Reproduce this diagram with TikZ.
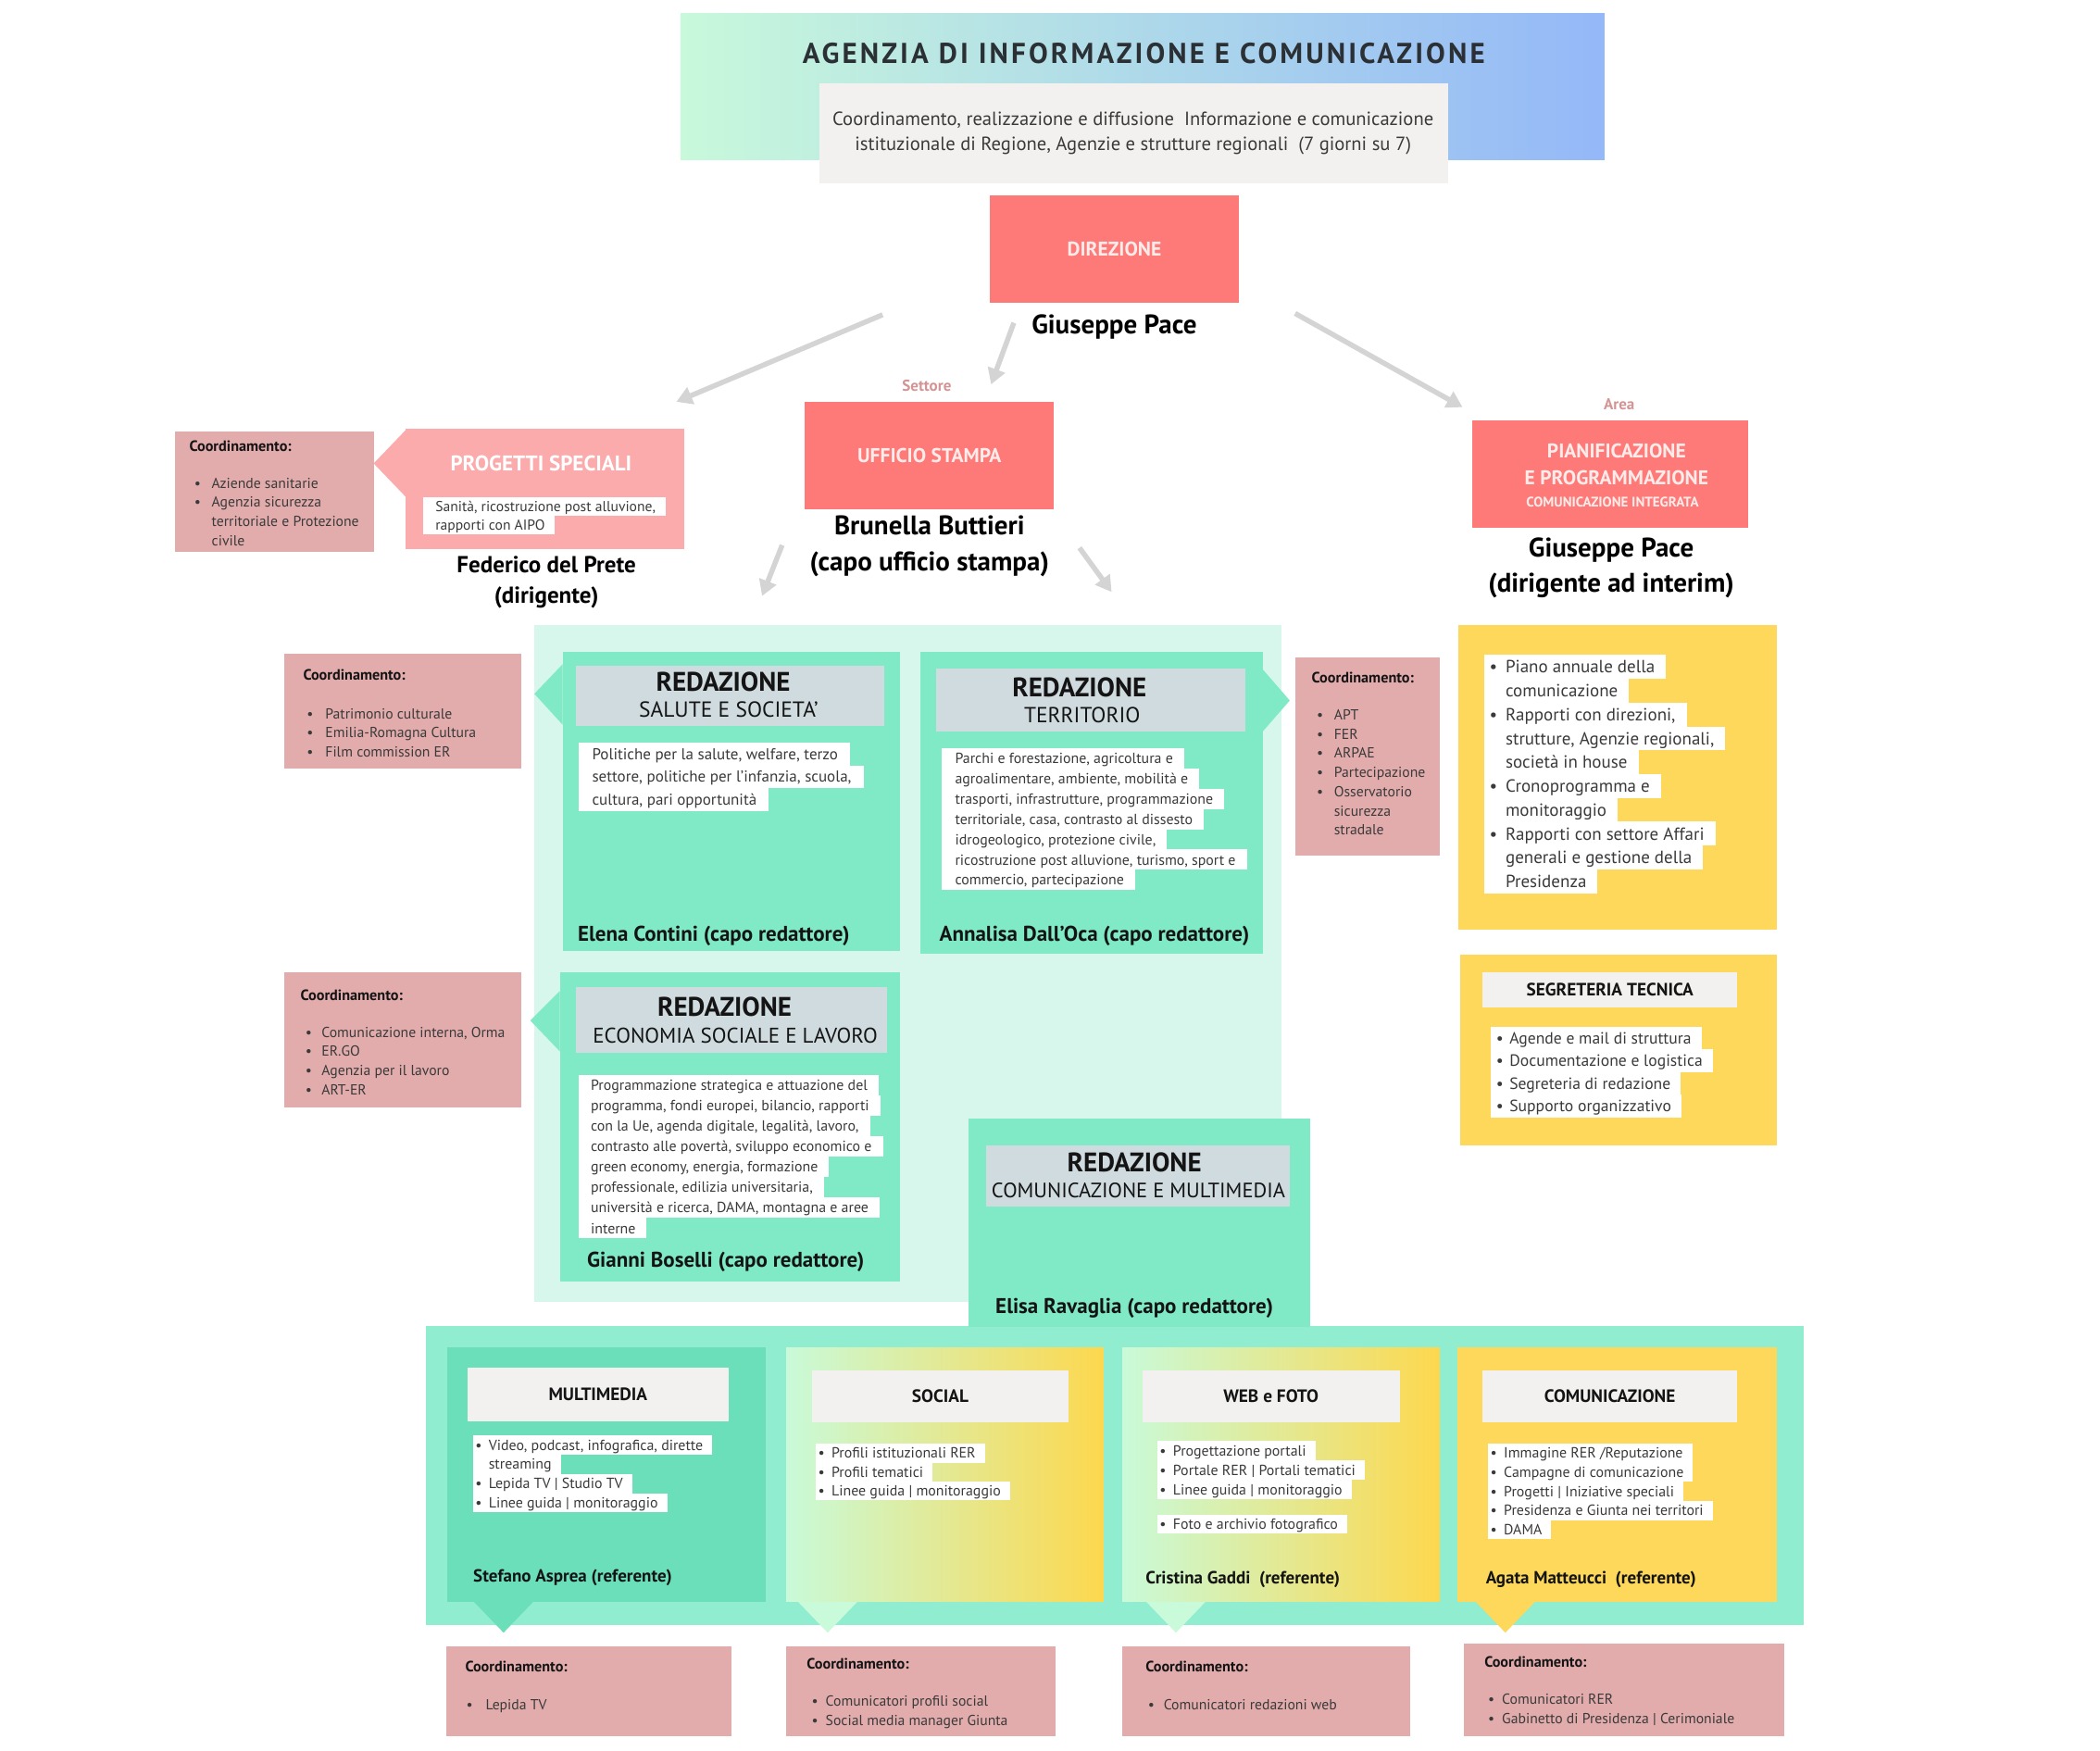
\documentclass[tikz,border=0pt]{standalone}
\usepackage{fontspec}
\setmainfont{PT Sans}
\usetikzlibrary{arrows.meta}
\definecolor{salmon}{HTML}{FE7A78}
\definecolor{pinkl}{HTML}{FBABAB}
\definecolor{coord}{HTML}{E2ABAC}
\definecolor{mintbg}{HTML}{D7F7EC}
\definecolor{mint}{HTML}{80E9C6}
\definecolor{hdr}{HTML}{CFDBDF}
\definecolor{yel}{HTML}{FDD85A}
\definecolor{mintb}{HTML}{91EDD0}
\definecolor{mintd}{HTML}{6ADFB9}
\definecolor{lgray}{HTML}{F2F1EF}
\definecolor{gradL}{HTML}{C9FAD9}
\definecolor{gradR}{HTML}{FDD84E}
\definecolor{banL}{HTML}{C8F9DB}
\definecolor{banR}{HTML}{94B8F8}
\definecolor{arr}{HTML}{D4D4D4}
\definecolor{lbl}{HTML}{D29494}
\definecolor{txt}{HTML}{3A3A3A}
\definecolor{ink}{HTML}{141414}
\definecolor{titc}{HTML}{2B3035}
\definecolor{labc}{HTML}{FFECEA}
\newlength\bpa \newlength\bpb \newlength\bpr
\newcommand\bli[1]{\hspace*{\bpa}\makebox[\bpb][l]{\textbullet}#1\hspace*{\bpr}}
\newcommand\cli[1]{\hspace*{\bpa}\hspace*{\bpb}#1\hspace*{\bpr}}
\newcommand\pli[1]{\hspace*{\bpa}#1\hspace*{\bpr}}
\newcommand\obox[6]{%
  \pgfmathsetmacro\obw{(#4-#2)*1.446429}%
  \pgfmathsetmacro\obh{(#5-#3)*1.446429}%
  \node[inner sep=0pt, outer sep=0pt, minimum width=\obw pt, minimum height=\obh pt, #6] (#1) at ({(#2+#4)/2},{(#3+#5)/2}) {};}
\newcommand\olines[6]{%
  \foreach \t [count=\i] in {#6} {\node[#2] (#1\i) at (#3,{#4+(\i-1)*#5}) {\t};}}
\tikzset{
  lab/.style={text=labc, font=\fontsize{21.5}{21.5}\selectfont\bfseries},
  bign/.style={text=black, font=\fontsize{29}{39}\selectfont\bfseries, align=center},
  sm/.style={text=lbl, font=\fontsize{17}{17}\selectfont\bfseries},
  ctitle/.style={anchor=west, text=ink, font=\fontsize{16.2}{16.2}\selectfont\bfseries},
  redt/.style={text=ink, font=\fontsize{29}{29}\selectfont\bfseries},
  reds/.style={text=ink, font=\fontsize{23.5}{23.5}\selectfont},
  capo/.style={anchor=west, text=ink, font=\fontsize{23}{23}\selectfont\bfseries},
  phead/.style={text=ink, font=\fontsize{19.3}{19.3}\selectfont\bfseries},
  pname/.style={anchor=west, text=ink, font=\fontsize{19}{19}\selectfont\bfseries},
  garrow/.style={draw=arr, line width=5.5pt, -{Triangle[length=17pt,width=19pt]}},
  ln/.style n args={4}{anchor=west, inner sep=0pt, text=txt, font=\fontsize{#1}{#1}\selectfont, text height=#2, text depth=#3, fill=#4},
  lP/.style={ln={15.6}{15.6pt}{4.7pt}{white}},
  lS/.style={ln={17}{18.25pt}{6.35pt}{white}},
  lT/.style={ln={15.9}{16.6pt}{5.4pt}{white}},
  lPi/.style={ln={19}{19.55pt}{6.25pt}{white}},
  lG/.style={ln={17.6}{18.45pt}{6.15pt}{white}},
  lB/.style={ln={15.9}{15.9pt}{4.8pt}{white}},
  lC/.style={ln={15.7}{15.4pt}{5.3pt}{none}},
}
\begin{document}
\begin{tikzpicture}[x=1.446429pt,y=-1.446429pt]
\useasboundingbox (0,0) rectangle (1568,1306.67);

% ---------- banner
\obox{ban}{508}{10}{1198}{119}{left color=banL,right color=banR}
\node[text=titc, font=\fontsize{31}{31}\selectfont\bfseries\addfontfeature{LetterSpace=10}] (tit) at (854,40) {AGENZIA DI INFORMAZIONE E COMUNICAZIONE};
\obox{desc}{612}{62}{1081}{137}{fill=lgray}
\node[text=txt, align=center, font=\fontsize{20.6}{27.5}\selectfont] (desct) at (846,99.5) {Coordinamento, realizzazione e diffusione\ \ Informazione e comunicazione\\istituzionale di Regione, Agenzie e strutture regionali\ \ (7 giorni su 7)};

% ---------- direzione
\obox{dir}{739}{146}{925}{226}{fill=salmon}
\node[lab] (dirt) at (dir) {DIREZIONE};
\node[bign] (dirn) at (832,244) {Giuseppe Pace};

\coordinate (a1s) at (659,235); \coordinate (a1e) at (505,300);
\coordinate (a2s) at (757,241); \coordinate (a2e) at (740,287);
\coordinate (a3s) at (967,234); \coordinate (a3e) at (1092,304);
\draw[garrow] (a1s) -- (a1e);
\draw[garrow] (a2s) -- (a2e);
\draw[garrow] (a3s) -- (a3e);

% ---------- ufficio stampa
\node[sm] (sett) at (692,288) {Settore};
\obox{uff}{601}{300}{787}{380}{fill=salmon}
\node[lab] (ufft) at (uff) {UFFICIO STAMPA};
\node[bign] (uffn) at (694,407.5) {Brunella Buttieri\\(capo ufficio stampa)};
\coordinate (a4s) at (584,407); \coordinate (a4e) at (569,445);
\coordinate (a5s) at (806,409); \coordinate (a5e) at (830,442);
\draw[garrow] (a4s) -- (a4e);
\draw[garrow] (a5s) -- (a5e);

% ---------- pianificazione
\node[sm] (area) at (1209,302) {Area};
\obox{pian}{1099}{314}{1305}{394}{fill=salmon}
\node[lab] (pian1) at (1207,337) {PIANIFICAZIONE};
\node[lab] (pian2) at (1207,357) {E PROGRAMMAZIONE};
\node[text=labc, font=\fontsize{15}{15}\selectfont\bfseries] (pian3) at (1204,375) {COMUNICAZIONE INTEGRATA};
\node[bign, font=\fontsize{29}{37.6}\selectfont\bfseries] (piann) at (1203,424) {Giuseppe Pace\\(dirigente ad interim)};

% ---------- progetti speciali
\fill[pinkl] (303,321) -- (279,346) -- (303,371) -- cycle;
\obox{prog}{303}{320}{511}{410}{fill=pinkl}
\node[text=white, font=\fontsize{23}{23}\selectfont\bfseries] (progt) at (404,346) {PROGETTI SPECIALI};
\begin{scope}
\setlength\bpa{13pt}\setlength\bpb{0pt}\setlength\bpr{11pt}
\olines{pg}{lP}{316}{378}{14}{\pli{Sanità, ricostruzione post alluvione,},\pli{rapporti con AIPO}}
\end{scope}
\node[bign, font=\fontsize{25}{33}\selectfont\bfseries] (progn) at (408,434.5) {Federico del Prete\\(dirigente)};

% ---------- coordinamento 1
\obox{c1}{131}{322}{279}{412}{fill=coord}
\node[ctitle] (c1t) at (139,333) {Coordinamento:};
\begin{scope}
\setlength\bpa{0pt}\setlength\bpb{18.8pt}\setlength\bpr{0pt}
\olines{c1l}{lC}{145}{361}{14.3}{\bli{Aziende sanitarie},\bli{Agenzia sicurezza},\cli{territoriale e Protezione},\cli{civile}}
\end{scope}

% ---------- redazioni container
\obox{grp}{399}{467}{957}{972}{fill=mintbg}

% salute
\fill[mint] (420,496) -- (399,518) -- (420,541) -- cycle;
\obox{sal}{420}{487}{672}{710}{fill=mint}
\obox{salh}{430}{497}{660}{542}{fill=hdr}
\node[redt] (salt1) at (540,509) {REDAZIONE};
\node[reds] (salt2) at (544,530) {SALUTE E SOCIETA’};
\begin{scope}
\setlength\bpa{14.5pt}\setlength\bpb{0pt}\setlength\bpr{13pt}
\olines{sl}{lS}{432}{563}{17}{\pli{Politiche per la salute, welfare, terzo},\pli{settore, politiche per l’infanzia, scuola,},\pli{cultura, pari opportunità}}
\end{scope}
\node[capo] (saln) at (429,699) {Elena Contini (capo redattore)};

% territorio
\fill[mint] (943,500) -- (963,523) -- (943,546) -- cycle;
\obox{ter}{687}{487}{943}{712}{fill=mint}
\obox{terh}{699}{499}{930}{546}{fill=hdr}
\node[redt] (tert1) at (806,513) {REDAZIONE};
\node[reds] (tert2) at (808,534) {TERRITORIO};
\begin{scope}
\setlength\bpa{14.5pt}\setlength\bpb{0pt}\setlength\bpr{12pt}
\olines{tl}{lT}{703}{566}{15.17}{\pli{Parchi e forestazione, agricoltura e},\pli{agroalimentare, ambiente, mobilità e},\pli{trasporti, infrastrutture, programmazione},\pli{territoriale, casa, contrasto al dissesto},\pli{idrogeologico, protezione civile,},\pli{ricostruzione post alluvione, turismo, sport e},\pli{commercio, partecipazione}}
\end{scope}
\node[capo] (tern) at (699,699) {Annalisa Dall’Oca (capo redattore)};

% coordinamento territorio
\obox{c4}{967}{491}{1075}{639}{fill=coord}
\node[ctitle] (c4t) at (977,506) {Coordinamento:};
\begin{scope}
\setlength\bpa{0pt}\setlength\bpb{18.8pt}\setlength\bpr{0pt}
\olines{c4l}{lC}{983}{534}{14.33}{\bli{APT},\bli{FER},\bli{ARPAE},\bli{Partecipazione},\bli{Osservatorio},\cli{sicurezza},\cli{stradale}}
\end{scope}

% coordinamento salute
\obox{c2}{212}{488}{389}{574}{fill=coord}
\node[ctitle] (c2t) at (224,504) {Coordinamento:};
\begin{scope}
\setlength\bpa{0pt}\setlength\bpb{20pt}\setlength\bpr{0pt}
\olines{c2l}{lC}{229}{533}{14.5}{\bli{Patrimonio culturale},\bli{Emilia-Romagna Cultura},\bli{Film commission ER}}
\end{scope}

% economia
\fill[mint] (418,740) -- (396,762) -- (418,785) -- cycle;
\obox{eco}{418}{726}{672}{957}{fill=mint}
\obox{ecoh}{430}{737}{662}{786}{fill=hdr}
\node[redt] (ecot1) at (541,752) {REDAZIONE};
\node[reds, font=\fontsize{23}{23}\selectfont] (ecot2) at (549,773) {ECONOMIA SOCIALE E LAVORO};
\begin{scope}
\setlength\bpa{13pt}\setlength\bpb{0pt}\setlength\bpr{12pt}
\olines{el}{lT}{432}{810}{15.29}{\pli{Programmazione strategica e attuazione del},\pli{programma, fondi europei, bilancio, rapporti},\pli{con la Ue, agenda digitale, legalità, lavoro,},\pli{contrasto alle povertà, sviluppo economico e},\pli{green economy, energia, formazione},\pli{professionale, edilizia universitaria,},\pli{università e ricerca, DAMA, montagna e aree},\pli{interne}}
\end{scope}
\node[capo] (econ) at (436,942) {Gianni Boselli (capo redattore)};

% coordinamento economia
\obox{c3}{212}{726}{389}{827}{fill=coord}
\node[ctitle] (c3t) at (222,743) {Coordinamento:};
\begin{scope}
\setlength\bpa{0pt}\setlength\bpb{17.4pt}\setlength\bpr{0pt}
\olines{c3l}{lC}{228}{771}{14.33}{\bli{Comunicazione interna, Orma},\bli{ER.GO},\bli{Agenzia per il lavoro},\bli{ART-ER}}
\end{scope}

% ---------- piano (yellow)
\obox{pia}{1089}{467}{1327}{694}{fill=yel}
\begin{scope}
\setlength\bpa{5.8pt}\setlength\bpb{17.4pt}\setlength\bpr{12pt}
\olines{pl}{lPi}{1108}{498}{17.78}{\bli{Piano annuale della},\cli{comunicazione},\bli{Rapporti con direzioni,},\cli{strutture, Agenzie regionali,},\cli{società in house},\bli{Cronoprogramma e},\cli{monitoraggio},\bli{Rapporti con settore Affari},\cli{generali e gestione della},\cli{Presidenza}}
\end{scope}

% segreteria
\obox{seg}{1090}{713}{1327}{855}{fill=yel}
\obox{segh}{1107}{726}{1297}{752}{fill=lgray}
\node[phead] (segt) at (segh) {SEGRETERIA TECNICA};
\begin{scope}
\setlength\bpa{5.8pt}\setlength\bpb{14.5pt}\setlength\bpr{11pt}
\olines{sg}{lG}{1113}{775}{17}{\bli{Agende e mail di struttura},\bli{Documentazione e logistica},\bli{Segreteria di redazione},\bli{Supporto organizzativo}}
\end{scope}

% ---------- bottom container
\obox{bot}{318}{990}{1347}{1213}{fill=mintb}

% comunicazione e multimedia
\obox{com}{723}{835}{978}{991}{fill=mint}
\obox{comh}{736}{855}{963}{901}{fill=hdr}
\node[redt] (comt1) at (847,868) {REDAZIONE};
\node[reds, font=\fontsize{22.5}{22.5}\selectfont] (comt2) at (850,889) {COMUNICAZIONE E MULTIMEDIA};
\node[capo, anchor=center] (comn) at (847,977) {Elisa Ravaglia (capo redattore)};

% panels
\fill[mintd] (353,1195) -- (376,1219) -- (399,1195) -- cycle;
\fill[gradL] (595,1195) -- (618,1219) -- (641,1195) -- cycle;
\fill[gradL] (855,1195) -- (878,1219) -- (901,1195) -- cycle;
\fill[yel] (1101,1195) -- (1124,1219) -- (1147,1195) -- cycle;
\obox{mm}{334}{1006}{572}{1196}{fill=mintd}
\obox{so}{587}{1006}{824}{1196}{left color=gradL,right color=gradR}
\obox{wf}{838}{1006}{1075}{1196}{left color=gradL,right color=gradR}
\obox{cm}{1088}{1006}{1327}{1196}{fill=yel}
\obox{mmh}{349}{1021}{544}{1061}{fill=lgray}
\obox{soh}{606}{1023}{798}{1062}{fill=lgray}
\obox{wfh}{853}{1023}{1045}{1062}{fill=lgray}
\obox{cmh}{1107}{1023}{1297}{1062}{fill=lgray}
\node[phead] (mmt) at (mmh) {MULTIMEDIA};
\node[phead] (sot) at (soh) {SOCIAL};
\node[phead] (wft) at (wfh) {WEB e FOTO};
\node[phead] (cmt) at (cmh) {COMUNICAZIONE};
\begin{scope}
\setlength\bpa{2.5pt}\setlength\bpb{14.5pt}\setlength\bpr{10pt}
\olines{mml}{lB}{353}{1079}{14.33}{\bli{Video, podcast, infografica, dirette},\cli{streaming},\bli{Lepida TV | Studio TV},\bli{Linee guida | monitoraggio}}
\olines{sol}{lB}{609}{1085}{14}{\bli{Profili istituzionali RER},\bli{Profili tematici},\bli{Linee guida | monitoraggio}}
\olines{wfl}{lB}{864}{1083}{14.5}{\bli{Progettazione portali},\bli{Portale RER | Portali tematici},\bli{Linee guida | monitoraggio}}
\olines{wfx}{lB}{864}{1138}{14}{\bli{Foto e archivio fotografico}}
\olines{cml}{lB}{1111}{1085}{14.25}{\bli{Immagine RER /Reputazione},\bli{Campagne di comunicazione},\bli{Progetti | Iniziative speciali},\bli{Presidenza e Giunta nei territori},\bli{DAMA}}
\end{scope}
\node[pname] (mmn) at (351,1178) {Stefano Asprea (referente)};
\node[pname] (wfn) at (853,1179) {Cristina Gaddi\ \ (referente)};
\node[pname] (cmn) at (1107,1179) {Agata Matteucci\ \ (referente)};

% bottom coordinamento
\obox{bc1}{333}{1229}{546}{1296}{fill=coord}
\obox{bc2}{587}{1229}{788}{1296}{fill=coord}
\obox{bc3}{838}{1229}{1053}{1296}{fill=coord}
\obox{bc4}{1093}{1227}{1332}{1296}{fill=coord}
\node[ctitle] (bc1t) at (345,1244) {Coordinamento:};
\node[ctitle] (bc2t) at (600,1242) {Coordinamento:};
\node[ctitle] (bc3t) at (853,1244) {Coordinamento:};
\node[ctitle] (bc4t) at (1106,1241) {Coordinamento:};
\begin{scope}
\setlength\bpa{0pt}\setlength\bpr{0pt}
\setlength\bpb{21pt}
\olines{bc1l}{lC}{348}{1273}{14}{\bli{Lepida TV}}
\setlength\bpb{15pt}
\olines{bc2l}{lC}{606}{1270}{14.5}{\bli{Comunicatori profili social},\bli{Social media manager Giunta}}
\setlength\bpb{17pt}
\olines{bc3l}{lC}{857}{1273}{14}{\bli{Comunicatori redazioni web}}
\setlength\bpb{15pt}
\olines{bc4l}{lC}{1111}{1269}{14.5}{\bli{Comunicatori RER},\bli{Gabinetto di Presidenza | Cerimoniale}}
\end{scope}
\end{tikzpicture}
\end{document}
